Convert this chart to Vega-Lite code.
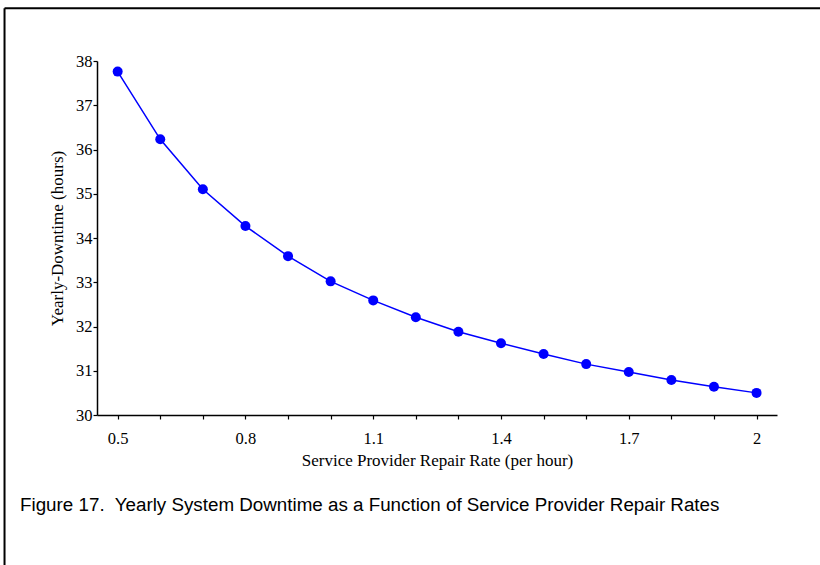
{
  "$schema": "https://vega.github.io/schema/vega-lite/v6.json",
  "autosize": "none",
  "width": 680,
  "height": 354,
  "padding": {"left": 97, "top": 61, "right": 43, "bottom": 150},
  "background": "white",
  "config": {"view": {"stroke": null}},
  "data": {"values": [
    {"rate": 0.5, "downtime": 37.76},
    {"rate": 0.6, "downtime": 36.23},
    {"rate": 0.7, "downtime": 35.10},
    {"rate": 0.8, "downtime": 34.27},
    {"rate": 0.9, "downtime": 33.59},
    {"rate": 1.0, "downtime": 33.02},
    {"rate": 1.1, "downtime": 32.59},
    {"rate": 1.2, "downtime": 32.21},
    {"rate": 1.3, "downtime": 31.88},
    {"rate": 1.4, "downtime": 31.62},
    {"rate": 1.5, "downtime": 31.38},
    {"rate": 1.6, "downtime": 31.15},
    {"rate": 1.7, "downtime": 30.97},
    {"rate": 1.8, "downtime": 30.79},
    {"rate": 1.9, "downtime": 30.64},
    {"rate": 2.0, "downtime": 30.50}
  ]},
  "layer": [
    {
      "data": {"values": [{}]},
      "mark": {"type": "rule", "color": "black", "strokeWidth": 2},
      "encoding": {
        "x": {"datum": 0.2344, "type": "quantitative", "scale": {"domain": [0.4515, 2.048], "nice": false, "zero": false}},
        "y": {"datum": 39.19, "type": "quantitative", "scale": {"domain": [30, 38], "nice": false, "zero": false}},
        "y2": {"datum": 26}
      }
    },
    {
      "data": {"values": [{}]},
      "mark": {"type": "rule", "color": "black", "strokeWidth": 2},
      "encoding": {
        "x": {"datum": 0.2344, "type": "quantitative"},
        "x2": {"datum": 2.3},
        "y": {"datum": 39.19, "type": "quantitative"}
      }
    },
    {
      "data": {"values": [{}]},
      "mark": {
        "type": "text",
        "text": "Figure 17.\u00a0 Yearly System Downtime as a Function of Service Provider Repair Rates",
        "align": "left",
        "baseline": "middle",
        "font": "Liberation Sans",
        "fontSize": 18.8,
        "fontWeight": "normal",
        "color": "black"
      },
      "encoding": {
        "x": {"datum": 0.2708, "type": "quantitative"},
        "y": {"datum": 27.966, "type": "quantitative"}
      }
    },
    {
      "mark": {"type": "line", "color": "#0000FF", "strokeWidth": 1.5},
      "encoding": {
        "x": {
          "field": "rate", "type": "quantitative",
          "scale": {"domain": [0.4515, 2.048], "nice": false, "zero": false},
          "axis": {
            "title": "Service Provider Repair Rate (per hour)",
            "values": [0.5, 0.6, 0.7, 0.8, 0.9, 1.0, 1.1, 1.2, 1.3, 1.4, 1.5, 1.6, 1.7, 1.8, 1.9, 2.0],
            "labelExpr": "round((datum.value - 0.5) * 10) % 3 == 0 ? toString(datum.value) : ''",
            "grid": false,
            "domainColor": "black", "domainWidth": 1.5,
            "tickColor": "black", "tickWidth": 1.2, "tickSize": 4,
            "labelFont": "Liberation Serif", "labelFontSize": 16.5, "labelColor": "black",
            "labelPadding": 11, "labelFlush": false, "labelOverlap": false,
            "titleFont": "Liberation Serif", "titleFontSize": 17, "titleFontWeight": "normal", "titleColor": "black",
            "titlePadding": 6
          }
        },
        "y": {
          "field": "downtime", "type": "quantitative",
          "scale": {"domain": [30, 38], "nice": false, "zero": false},
          "axis": {
            "title": "Yearly-Downtime (hours)",
            "values": [30, 30.5, 31, 31.5, 32, 32.5, 33, 33.5, 34, 34.5, 35, 35.5, 36, 36.5, 37, 37.5, 38],
            "labelExpr": "datum.value % 1 == 0 ? toString(datum.value) : ''",
            "grid": false,
            "domainColor": "black", "domainWidth": 1.5,
            "tickColor": "black", "tickWidth": 1.2, "tickSize": 4,
            "labelFont": "Liberation Serif", "labelFontSize": 16.5, "labelColor": "black",
            "labelPadding": 1, "labelFlush": false, "labelOverlap": false,
            "titleFont": "Liberation Serif", "titleFontSize": 17, "titleFontWeight": "normal", "titleColor": "black",
            "titlePadding": 9
          }
        }
      }
    },
    {
      "mark": {"type": "point", "filled": true, "color": "#0000FF", "size": 100, "opacity": 1},
      "encoding": {
        "x": {"field": "rate", "type": "quantitative"},
        "y": {"field": "downtime", "type": "quantitative"}
      }
    }
  ]
}
